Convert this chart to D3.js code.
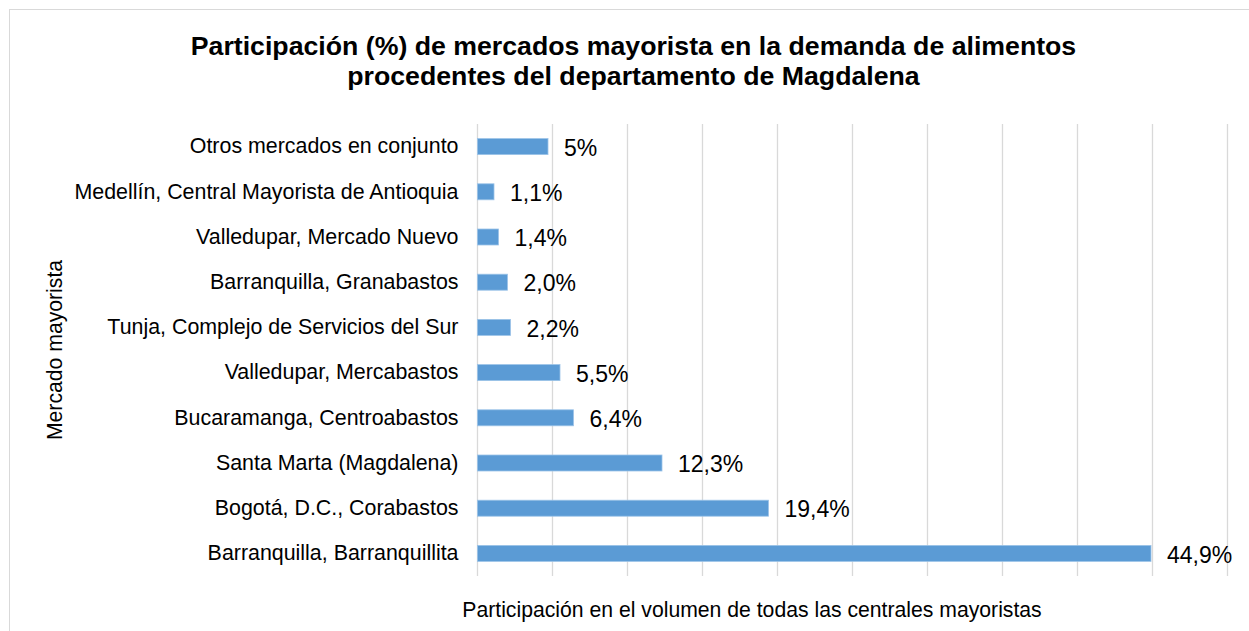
<!DOCTYPE html>
<html>
<head>
<meta charset="utf-8">
<script src="https://cdn.jsdelivr.net/npm/d3@7/dist/d3.min.js"></script>
<style>
    body { margin: 0; background: #fff; }
    svg { display: block; font-family: "Liberation Sans", Arial, sans-serif; }
</style>
</head>
<body>
<div class="chart-wrapper"></div>
<script>
const categories = [
    'Otros mercados en conjunto',
    'Medellín, Central Mayorista de Antioquia',
    'Valledupar, Mercado Nuevo',
    'Barranquilla, Granabastos',
    'Tunja, Complejo de Servicios del Sur',
    'Valledupar, Mercabastos',
    'Bucaramanga, Centroabastos',
    'Santa Marta (Magdalena)',
    'Bogotá, D.C., Corabastos',
    'Barranquilla, Barranquillita'
];
const shares = [4.7, 1.1, 1.4, 2.0, 2.2, 5.5, 6.4, 12.3, 19.4, 44.9];
const shareLabels = ['5%', '1,1%', '1,4%', '2,0%', '2,2%', '5,5%', '6,4%', '12,3%', '19,4%', '44,9%'];
const xTicks = [0, 5, 10, 15, 20, 25, 30, 35, 40, 45, 50];
const titleLines = [
    'Participación (%) de mercados mayorista en la demanda de alimentos',
    'procedentes del departamento de Magdalena'
];

const width = 1249;
const height = 631;
const barColor = '#5b9bd5';
const gridColor = '#d9d9d9';

let canvas = d3.select('.chart-wrapper').append('svg')
    .attr('width', width)
    .attr('height', height);

// chart area border (cut off at right / bottom in the original)
canvas.append('rect')
    .attr('x', 9.5)
    .attr('y', 9.5)
    .attr('width', width + 20)
    .attr('height', height + 20)
    .attr('fill', 'none')
    .attr('stroke', gridColor)
    .attr('stroke-width', 1);

let x = d3.scaleLinear()
    .domain([0, 50])
    .range([477.5, 1227.5]);

let y = d3.scaleBand()
    .domain(categories)
    .range([124, 576])
    .paddingInner(0.646)
    .paddingOuter(0.323);

// vertical gridlines
canvas.append('g')
    .attr('class', 'grid')
    .selectAll('line')
    .data(xTicks)
    .enter()
    .append('line')
    .attr('x1', (d) => x(d))
    .attr('x2', (d) => x(d))
    .attr('y1', 124)
    .attr('y2', 576)
    .attr('stroke', gridColor)
    .attr('stroke-width', 1.3);

// bars
canvas.append('g')
    .attr('class', 'bars-group')
    .selectAll('.share-bar')
    .data(shares)
    .enter()
    .append('rect')
    .attr('class', 'share-bar')
    .attr('x', x(0))
    .attr('y', (d, i) => y(categories[i]))
    .attr('width', (d) => x(d) - x(0))
    .attr('height', y.bandwidth())
    .attr('fill', barColor)
    .attr('stroke', '#9cc3e8')
    .attr('stroke-width', 0.8);

// value labels
canvas.append('g')
    .attr('class', 'value-labels')
    .selectAll('text')
    .data(shares)
    .enter()
    .append('text')
    .attr('x', (d) => x(d) + 16)
    .attr('y', (d, i) => y(categories[i]) + y.bandwidth() / 2 + 1)
    .attr('dy', '0.36em')
    .attr('font-size', '23px')
    .attr('fill', '#000')
    .text((d, i) => shareLabels[i]);

// category axis
let yAxis = canvas.append('g')
    .attr('transform', `translate(${x(0)}, 0)`)
    .call(d3.axisLeft(y).tickSize(0).tickPadding(19));
yAxis.select('.domain').remove();
yAxis.selectAll('text')
    .attr('font-family', '"Liberation Sans", Arial, sans-serif')
    .attr('font-size', '21.4px')
    .attr('fill', '#000');

// title
canvas.append('g')
    .attr('class', 'title')
    .selectAll('text')
    .data(titleLines)
    .enter()
    .append('text')
    .attr('x', 633.5)
    .attr('y', (d, i) => 54.5 + i * 30.5)
    .attr('text-anchor', 'middle')
    .attr('font-size', '26.7px')
    .attr('font-weight', 'bold')
    .attr('fill', '#000')
    .text((d) => d);

// axis titles
canvas.append('text')
    .attr('x', 752)
    .attr('y', 617)
    .attr('text-anchor', 'middle')
    .attr('font-size', '21.2px')
    .attr('fill', '#000')
    .text('Participación en el volumen de todas las centrales mayoristas');

canvas.append('text')
    .attr('transform', 'translate(62, 350) rotate(-90)')
    .attr('text-anchor', 'middle')
    .attr('font-size', '21.2px')
    .attr('fill', '#000')
    .text('Mercado mayorista');
</script>
</body>
</html>
